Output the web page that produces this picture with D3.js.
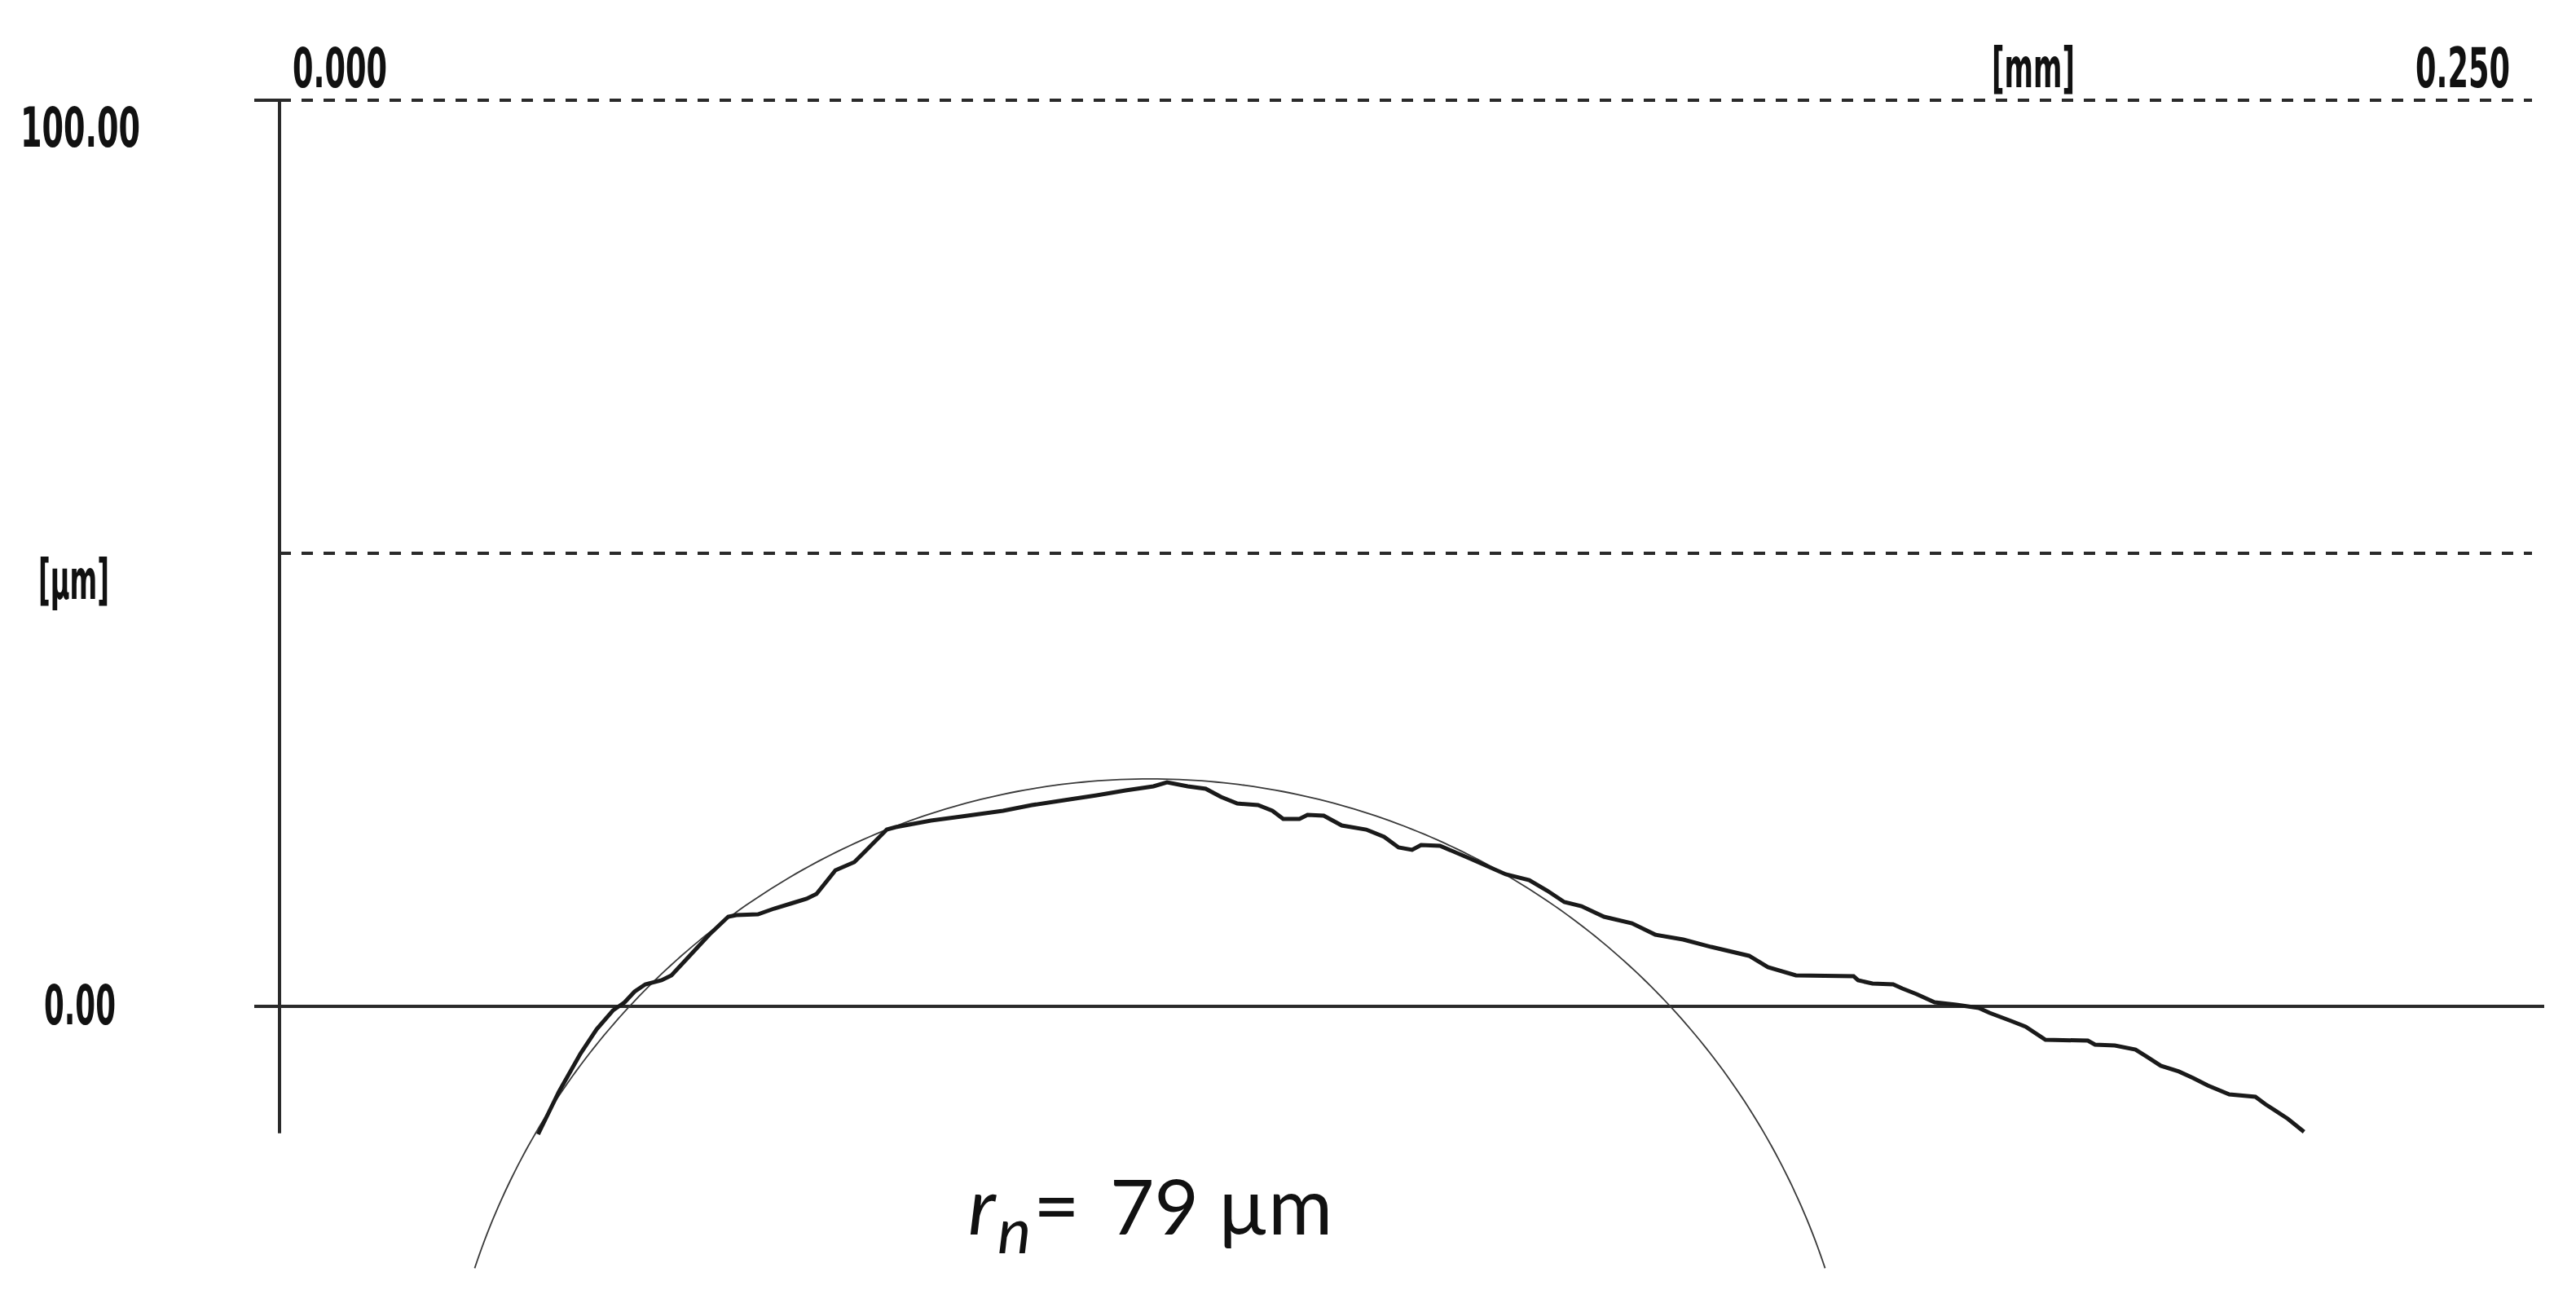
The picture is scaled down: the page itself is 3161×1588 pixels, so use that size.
<!DOCTYPE html>
<html>
<head>
<meta charset="utf-8">
<script src="https://cdn.jsdelivr.net/npm/d3@7"></script>
<style>
  html, body { margin: 0; padding: 0; background: #fff; }
  svg { display: block; }
</style>
</head>
<body>
<svg id="chart" width="3161" height="1588"></svg>
<script>
// ---------------- data ----------------
// profile: x in mm, y in µm
const profileX = [0.0287,0.0310,0.0334,0.0352,0.0370,0.0383,0.0394,0.0406,0.0424,0.0435,
  0.0456,0.0477,0.0498,0.0507,0.0531,0.0549,0.0570,0.0585,0.0596,0.0617,
  0.0638,0.0648,0.0674,0.0684,0.0723,0.0757,0.0803,0.0835,0.0871,0.0907,
  0.0939,0.0970,0.0985,0.1008,0.1028,0.1045,0.1063,0.1086,0.1102,0.1114,
  0.1132,0.1141,0.1159,0.1179,0.1206,0.1226,0.1242,0.1257,0.1267,0.1288,
  0.1320,0.1361,0.1387,0.1407,0.1426,0.1445,0.1470,0.1501,0.1527,0.1558,
  0.1589,0.1631,0.1652,0.1683,0.1747,0.1752,0.1768,0.1791,0.1801,0.1817,
  0.1837,0.1861,0.1886,0.1898,0.1922,0.1938,0.1960,0.2007,0.2015,0.2037,
  0.2060,0.2073,0.2088,0.2108,0.2124,0.2140,0.2164,0.2193,0.2204,0.2229,0.2247];
const profileY = [-14.12,-9.44,-5.22,-2.52,-0.45,0.45,1.62,2.43,2.88,3.42,
  5.67,7.91,9.89,10.07,10.16,10.79,11.42,11.87,12.41,15.02,
  15.92,16.91,19.51,19.78,20.50,20.95,21.58,22.21,22.75,23.29,
  23.83,24.28,24.73,24.28,24.01,23.11,22.39,22.21,21.58,20.68,
  20.68,21.13,21.04,19.96,19.51,18.71,17.54,17.27,17.81,17.72,
  16.37,14.57,13.94,12.77,11.51,11.06,9.89,9.17,7.91,7.37,
  6.56,5.58,4.32,3.42,3.33,2.88,2.52,2.43,1.98,1.35,
  0.45,0.18,-0.18,-0.72,-1.62,-2.25,-3.69,-3.78,-4.23,-4.32,
  -4.77,-5.58,-6.56,-7.19,-7.91,-8.72,-9.71,-9.98,-10.79,-12.41,-13.85];

// fitted nose circle
const circleCenterX = 0.0966;   // mm
const circleCenterY = -53.9;    // µm
const circleRadius = 79;        // µm
const circleLowestY = -28.9;    // µm, where the drawn arc stops

// axes
const xDomain = [0, 0.25];
const yDomain = [-14, 100];
const xTickValues = [0, 0.25];
const xTickLabels = ["0.000", "0.250"];
const xUnitLabel = "[mm]";
const yTickValues = [100, 0];
const yTickLabels = ["100.00", "0.00"];
const yUnitLabel = "[µm]";
const dashedLevels = [100, 50];
const radiusLabel = { sym: "r", sub: "n", eq: "=", value: "79", unit: "µm" };

// ---------------- drawing ----------------
const svg = d3.select("#chart");
const x = d3.scaleLinear().domain(xDomain).range([343, 3107]);
const y = d3.scaleLinear().domain([0, 100]).range([1235, 123]);

const ink = "#2a2a2a";
const labelFont = "'Liberation Sans Narrow', 'DejaVu Sans Condensed', sans-serif";

// vertical axis
svg.append("line")
  .attr("x1", x(0)).attr("x2", x(0))
  .attr("y1", y(100)).attr("y2", y(yDomain[0]))
  .attr("stroke", ink).attr("stroke-width", 4);

// dashed reference levels
dashedLevels.forEach(v => {
  svg.append("line")
    .attr("x1", x(0)).attr("x2", x(xDomain[1]))
    .attr("y1", y(v)).attr("y2", y(v))
    .attr("stroke", ink).attr("stroke-width", 4)
    .attr("stroke-dasharray", "14,13");
});
// small solid tick at the top-left
svg.append("line")
  .attr("x1", x(0) - 31).attr("x2", x(0))
  .attr("y1", y(100)).attr("y2", y(100))
  .attr("stroke", ink).attr("stroke-width", 4);

// zero line
svg.append("line")
  .attr("x1", x(0) - 31).attr("x2", x(xDomain[1]) + 15)
  .attr("y1", y(0)).attr("y2", y(0))
  .attr("stroke", ink).attr("stroke-width", 4);

// fitted circle arc
const a0 = Math.asin((circleLowestY - circleCenterY) / circleRadius);
const arcPts = d3.range(0, 241).map(i => {
  const t = a0 + (Math.PI - 2 * a0) * i / 240;
  return [circleCenterX + circleRadius * Math.cos(t) / 1000,
          circleCenterY + circleRadius * Math.sin(t)];
});
svg.append("path")
  .attr("d", d3.line().x(d => x(d[0])).y(d => y(d[1]))(arcPts))
  .attr("fill", "none").attr("stroke", "#3a3a3a").attr("stroke-width", 1.8);

// measured profile
const profile = profileX.map((v, i) => [v, profileY[i]]);
svg.append("path")
  .attr("d", d3.line().x(d => x(d[0])).y(d => y(d[1]))(profile))
  .attr("fill", "none").attr("stroke", "#1a1a1a").attr("stroke-width", 5)
  .attr("stroke-linejoin", "miter");

// x tick labels
const xLab = svg.append("g")
  .attr("font-family", labelFont).attr("font-weight", "bold")
  .attr("font-size", 68).attr("fill", "#111");
xTickValues.forEach((v, i) => {
  const first = i === 0;
  xLab.append("text")
    .attr("x", first ? x(v) + 16 : x(v) - 143)
    .attr("y", 107)
    .attr("textLength", 116).attr("lengthAdjust", "spacingAndGlyphs")
    .text(xTickLabels[i]);
});
xLab.append("text")
  .attr("x", 2444).attr("y", 107)
  .attr("textLength", 102).attr("lengthAdjust", "spacingAndGlyphs")
  .text(xUnitLabel);

// y tick labels
const yLab = svg.append("g")
  .attr("font-family", labelFont).attr("font-weight", "bold")
  .attr("font-size", 68).attr("fill", "#111");
yTickValues.forEach((v, i) => {
  const top = v === 100;
  yLab.append("text")
    .attr("x", top ? 25 : 54)
    .attr("y", top ? y(v) + 57 : y(v) + 22)
    .attr("textLength", top ? 147 : 88).attr("lengthAdjust", "spacingAndGlyphs")
    .text(yTickLabels[i]);
});
yLab.append("text")
  .attr("x", 47).attr("y", 735)
  .attr("textLength", 87).attr("lengthAdjust", "spacingAndGlyphs")
  .text(yUnitLabel);

// radius annotation (one text element, subscript via tspan)
const rt = svg.append("text")
  .attr("font-family", "Lato, 'Open Sans', sans-serif")
  .attr("fill", "#111").attr("y", 1515).attr("font-size", 98);
rt.append("tspan").attr("x", 1188).attr("font-style", "italic").text(radiusLabel.sym);
rt.append("tspan").attr("x", 1224).attr("dy", 23).attr("font-size", 78)
  .attr("font-style", "italic").text(radiusLabel.sub);
rt.append("tspan").attr("x", 1268).attr("dy", -23).text(radiusLabel.eq);
rt.append("tspan").attr("x", 1362).attr("font-size", 94).text(radiusLabel.value);
rt.append("tspan").attr("x", 1494).attr("font-size", 96).text(radiusLabel.unit);
</script>
</body>
</html>
